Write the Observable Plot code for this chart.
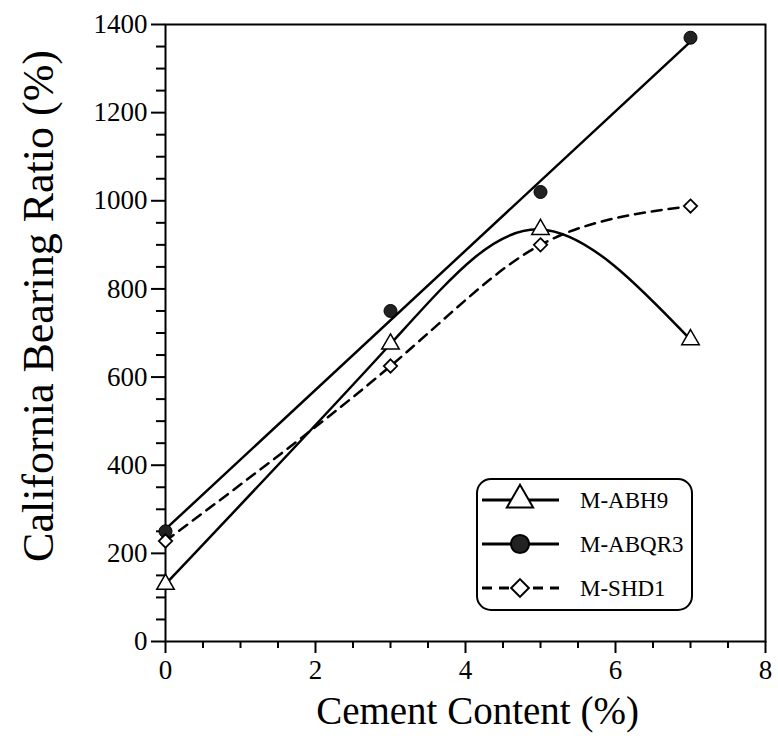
<!DOCTYPE html>
<html><head><meta charset="utf-8">
<script src="https://cdn.jsdelivr.net/npm/d3@7"></script>
<script src="https://cdn.jsdelivr.net/npm/@observablehq/plot@0.6"></script>
<style>
body{margin:0;background:#fff;}
#chart{position:relative;width:778px;height:752px;font-family:"Liberation Serif",serif;}
#legend{position:absolute;left:475px;top:477px;}
</style></head><body><div id="chart"></div>
<script>
// Data
const cement = [0, 3, 5, 7];
const abh9 = [130, 675, 935, 685];
const abqr3 = [250, 750, 1020, 1370];
const shd1 = [228, 625, 900, 988];
const seriesNames = ["M-ABH9", "M-ABQR3", "M-SHD1"];
const xTicks = [0, 2, 4, 6, 8];
const xMinorTicks = [0.5, 1, 1.5, 2.5, 3, 3.5, 4.5, 5, 5.5, 6.5, 7, 7.5];
const yTicks = [0, 200, 400, 600, 800, 1000, 1200, 1400];
const yMinorTicks = [50, 100, 150, 250, 300, 350, 450, 500, 550, 650, 700, 750, 850, 900, 950,
                     1050, 1100, 1150, 1250, 1300, 1350];
const xTitle = "Cement Content (%)";
const yTitle = "California Bearing Ratio (%)";

const tABH9 = cement.map((x, i) => ({x, y: abh9[i]}));
const tABQR3 = cement.map((x, i) => ({x, y: abqr3[i]}));
const tSHD1 = cement.map((x, i) => ({x, y: shd1[i]}));

const font = "Liberation Serif";
const plot = Plot.plot({
  width: 778, height: 752,
  marginLeft: 165, marginRight: 13, marginTop: 24, marginBottom: 111,
  style: {fontFamily: font, background: "white", color: "black"},
  x: {domain: [0, 8]},
  y: {domain: [0, 1400]},
  marks: [
    Plot.frame({stroke: "black", strokeWidth: 2}),
    Plot.axisX({ticks: xTicks, tickSize: 12, tickPadding: 6, fontSize: 27, label: null, strokeWidth: 2, tickFormat: d3.format("d")}),
    Plot.axisX({ticks: xMinorTicks, tickSize: 7, tickFormat: () => "", label: null, strokeWidth: 2}),
    Plot.axisY({ticks: yTicks, tickSize: 14, tickPadding: 4, fontSize: 27, label: null, strokeWidth: 2, tickFormat: d3.format("d")}),
    Plot.axisY({ticks: yMinorTicks, tickSize: 9, tickFormat: () => "", label: null, strokeWidth: 2}),
    Plot.text([xTitle], {frameAnchor: "bottom", dy: 82, dx: 12, fontSize: 39}),
    Plot.text([yTitle], {frameAnchor: "left", dx: -127, dy: -27, rotate: -90, textAnchor: "middle", fontSize: 44}),
    Plot.line(tABH9, {x: "x", y: "y", curve: "natural", stroke: "black", strokeWidth: 2.5}),
    Plot.linearRegressionY(tABQR3, {x: "x", y: "y", stroke: "black", strokeWidth: 2.5, ci: 0}),
    Plot.line(tSHD1, {x: "x", y: "y", curve: "natural", stroke: "black", strokeWidth: 2.5, strokeDasharray: "10,7"}),
    Plot.dot(tABH9, {x: "x", y: "y", symbol: "triangle", r: 6.5, fill: "white", stroke: "black", strokeWidth: 1.5}),
    Plot.dot(tABQR3, {x: "x", y: "y", symbol: "circle", r: 6.5, fill: "#222", stroke: "black", strokeWidth: 1}),
    Plot.dot(tSHD1, {x: "x", y: "y", symbol: "diamond2", r: 6, fill: "white", stroke: "black", strokeWidth: 1.8})
  ]
});
const chart = document.getElementById("chart");
chart.appendChild(plot);

// Legend (inside the plot area, rounded box)
const W = 215, H = 131;
const lg = d3.create("svg").attr("id", "legend").attr("width", W + 4).attr("height", H + 4);
lg.append("rect").attr("x", 2).attr("y", 2).attr("width", W).attr("height", H)
  .attr("rx", 14).attr("fill", "white").attr("stroke", "black").attr("stroke-width", 2);
const rows = [
  {name: seriesNames[0], sym: d3.symbolTriangle, size: 300, fill: "white", dash: null},
  {name: seriesNames[1], sym: d3.symbolCircle, size: 260, fill: "#222", dash: null},
  {name: seriesNames[2], sym: d3.symbolDiamond2, size: 200, fill: "white", dash: "10,7"}
];
rows.forEach((r, i) => {
  const cy = 23 + i * 44;
  lg.append("line").attr("x1", 7).attr("x2", 84).attr("y1", cy).attr("y2", cy)
    .attr("stroke", "black").attr("stroke-width", 3).attr("stroke-dasharray", r.dash);
  lg.append("path").attr("d", d3.symbol(r.sym, r.size)()).attr("transform", `translate(45,${cy})`)
    .attr("fill", r.fill).attr("stroke", "black").attr("stroke-width", 2);
  lg.append("text").attr("x", 105).attr("y", cy).attr("dy", "0.35em")
    .attr("font-family", font).attr("font-size", 23).text(r.name);
});
chart.appendChild(lg.node());
</script>
</body></html>
